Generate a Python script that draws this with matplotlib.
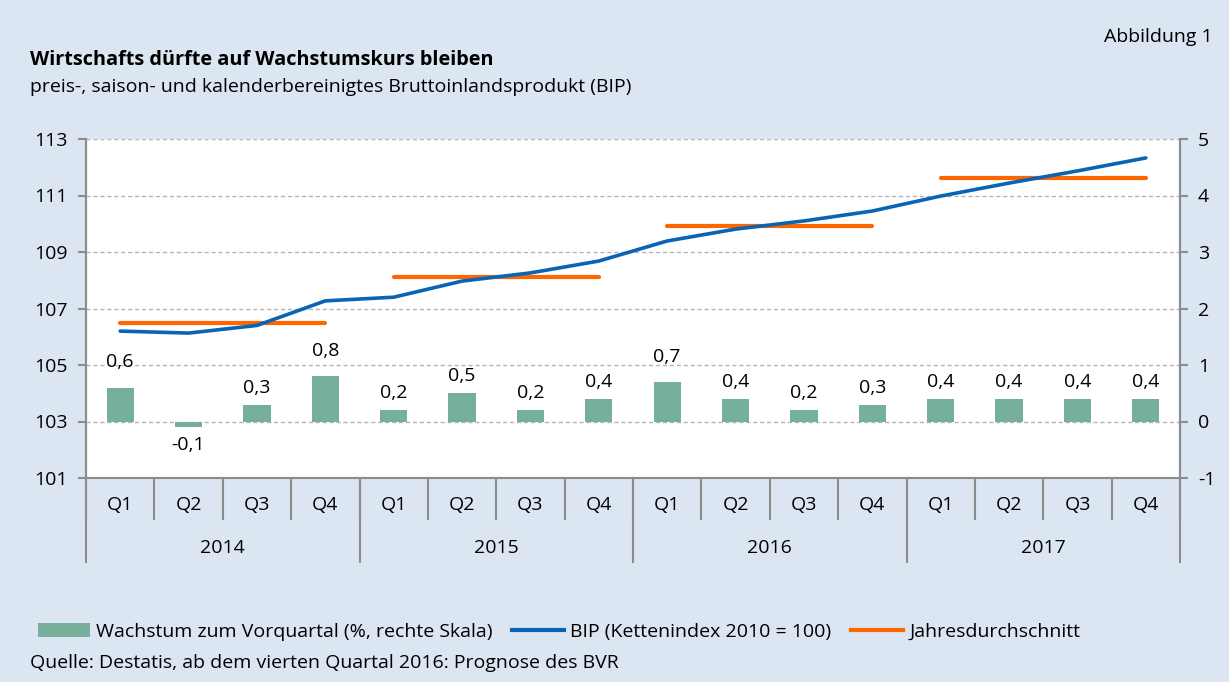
import numpy as np
import matplotlib
matplotlib.use("Agg")
from matplotlib import pyplot as plt
from matplotlib.lines import Line2D
from matplotlib.patches import Patch
import matplotlib.transforms as mtransforms

plt.rcParams['font.family'] = ['Open Sans', 'DejaVu Sans']
plt.rcParams['axes.unicode_minus'] = False

# Daten
years = ['2014', '2015', '2016', '2017']
quarters = ['Q1', 'Q2', 'Q3', 'Q4']
wachstum = [0.6, -0.1, 0.3, 0.8, 0.2, 0.5, 0.2, 0.4, 0.7, 0.4, 0.2, 0.3, 0.4, 0.4, 0.4, 0.4]
bip = [106.2, 106.13, 106.4, 107.27, 107.4, 107.97, 108.26, 108.68,
       109.39, 109.81, 110.1, 110.45, 110.98, 111.44, 111.87, 112.33]
jahresschnitt = [106.49, 108.11, 109.92, 111.62]

bg = '#dce6f2'
c_bar = '#76af9a'
c_blue = '#0a64b4'
c_orange = '#ff6600'
c_axis = '#8c8c8c'
fs = 14

fig = plt.figure(figsize=(12.29, 6.82), dpi=100)
fig.patch.set_facecolor(bg)
ax = fig.add_axes([86 / 1229, 1 - 478 / 682, (1180 - 86) / 1229, (478 - 139) / 682])
ax2 = ax.twinx()

x = np.arange(len(bip))

# Linke Skala: BIP
ax.set_ylim(101, 113)
ax.set_yticks(range(101, 114, 2))
ax.set_xlim(-0.5, len(bip) - 0.5)
ax.grid(axis='y', linestyle=(0, (3, 2)), color='#b4b4b4', linewidth=1)
ax.set_axisbelow(True)
ax.plot(x, bip, color=c_blue, linewidth=2.6, solid_capstyle='round', zorder=4)
for i, v in enumerate(jahresschnitt):
    ax.hlines(v, 4 * i, 4 * i + 3, color=c_orange, linewidth=3, capstyle='round', zorder=3)

# Rechte Skala: Wachstum
ax2.set_ylim(-1, 5)
ax2.set_yticks(range(-1, 6))
ax2.bar(x, wachstum, width=0.4, color=c_bar, zorder=2)
for xi, v in zip(x, wachstum):
    lab = ('%.1f' % v).replace('.', ',')
    yl = v + 0.3 if v >= 0 else v - 0.32
    if v >= 0.6:
        yl = v + 0.45
    ax2.text(xi, yl, lab, ha='center', va='center', fontsize=fs)

for a in (ax, ax2):
    for s in a.spines.values():
        s.set_color(c_axis)
        s.set_linewidth(1.5)
    a.spines['top'].set_visible(False)
    a.tick_params(axis='y', length=6, width=1.5, color=c_axis, labelsize=fs, pad=7)
ax2.patch.set_visible(False)

# Kategorie-Achse
ax.set_xticks(x)
ax.set_xticklabels(quarters * len(years), fontsize=fs)
ax.tick_params(axis='x', length=0, pad=13)
ax.set_xticks(np.arange(-0.5, len(bip), 1), minor=True)
ax.tick_params(axis='x', which='minor', length=30, width=1.5, color=c_axis)
trans = mtransforms.blended_transform_factory(ax.transData, ax.transAxes)
for i in range(len(years) + 1):
    ax.plot([4 * i - 0.5] * 2, [0, -84 / 339], transform=trans, color=c_axis,
            linewidth=1.5, clip_on=False)
for i, yr in enumerate(years):
    ax.text(4 * i + 1.5, -70 / 339, yr, transform=trans, ha='center', va='center',
            fontsize=fs)

# Titel
fig.text(30 / 1229, 1 - 60 / 682, 'Wirtschafts dürfte auf Wachstumskurs bleiben',
         fontsize=14.3, fontweight='bold', va='center')
fig.text(30 / 1229, 1 - 87 / 682,
         'preis-, saison- und kalenderbereinigtes Bruttoinlandsprodukt (BIP)',
         fontsize=fs, va='center')
fig.text(1213 / 1229, 1 - 37 / 682, 'Abbildung 1', fontsize=fs, ha='right', va='center')

# Legende
handles = [Patch(facecolor=c_bar, edgecolor='none'),
           Line2D([], [], color=c_blue, linewidth=3),
           Line2D([], [], color=c_orange, linewidth=3)]
labels = ['Wachstum zum Vorquartal (%, rechte Skala)', 'BIP (Kettenindex 2010 = 100)',
          'Jahresdurchschnitt']
fig.legend(handles, labels, loc='center left', bbox_to_anchor=(24 / 1229, 1 - 632 / 682),
           ncol=3, frameon=False, fontsize=fs, handlelength=2.7, handleheight=0.7,
           handletextpad=0.3, columnspacing=1.0, borderpad=0.2)
fig.text(30 / 1229, 1 - 663 / 682, 'Quelle: Destatis, ab dem vierten Quartal 2016: Prognose des BVR',
         fontsize=fs, va='center')

plt.savefig('out.png', dpi=100, facecolor=bg)
